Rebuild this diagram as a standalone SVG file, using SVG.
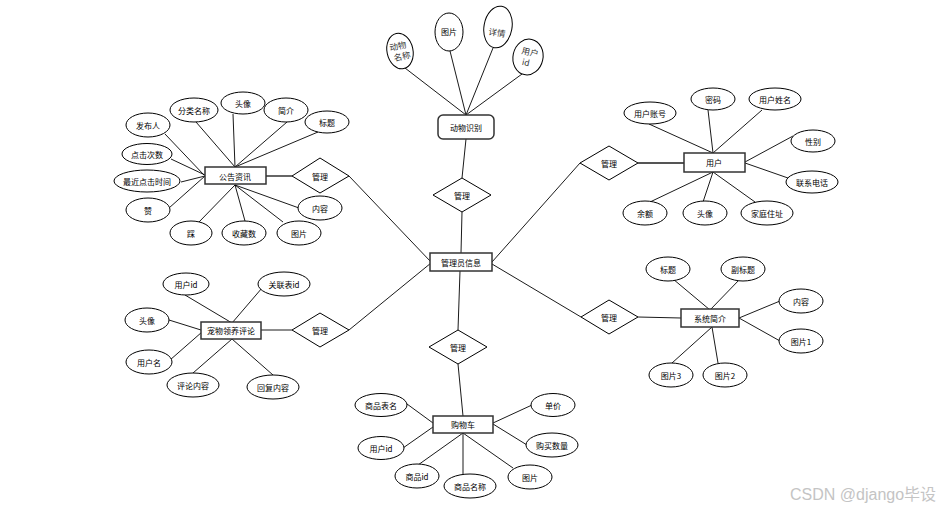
<svg xmlns="http://www.w3.org/2000/svg" width="945" height="509" viewBox="0 0 945 509">
<style>
.bg{fill:#fff}
.ent{fill:#fff;stroke:#333;stroke-width:1.5}
.att{fill:#fff;stroke:#000;stroke-width:1}
.rel{fill:#fff;stroke:#000;stroke-width:1}
.ln{stroke:#000;stroke-width:0.9;fill:none}
.lt{stroke:#555;stroke-width:1.8;fill:none}
text{font-family:"Noto Sans CJK SC","Liberation Sans",sans-serif;font-size:8px;fill:#000;text-anchor:middle;dominant-baseline:central}
.ser{font-family:"Noto Sans CJK SC","Liberation Serif",serif;font-size:8.5px;fill:#333}
.wm{font-family:"Liberation Sans","Noto Sans CJK SC",sans-serif;font-size:16px;fill:#c4c4c4;text-anchor:start;dominant-baseline:alphabetic}
</style>
<rect class="bg" x="0" y="0" width="945" height="509"/>
<g id="connectors">
<!-- admin to diamonds -->
<line class="ln" x1="462" y1="212" x2="461" y2="253"/>
<line class="ln" x1="462" y1="178" x2="466" y2="139"/>
<line class="ln" x1="349" y1="176" x2="431" y2="262"/>
<line class="lt" x1="266" y1="176" x2="292" y2="176"/>
<line class="ln" x1="349" y1="330" x2="431" y2="263"/>
<line class="ln" x1="261" y1="330" x2="292" y2="330"/>
<line class="ln" x1="580" y1="163" x2="492" y2="262"/>
<line class="lt" x1="638" y1="163" x2="684" y2="163"/>
<line class="ln" x1="581" y1="317" x2="492" y2="264"/>
<line class="ln" x1="638" y1="317" x2="681" y2="318"/>
<line class="ln" x1="458" y1="330" x2="460" y2="271"/>
<line class="ln" x1="458" y1="364" x2="463" y2="416"/>
<!-- 动物识别 -->
<line class="ln" x1="405" y1="68" x2="466" y2="115"/>
<line class="ln" x1="450" y1="51" x2="466" y2="115"/>
<line class="ln" x1="493" y1="48" x2="466" y2="115"/>
<line class="ln" x1="522" y1="74" x2="466" y2="115"/>
<!-- 公告资讯 -->
<line class="ln" x1="165" y1="134" x2="204" y2="175"/>
<line class="ln" x1="171" y1="159" x2="205" y2="175"/>
<line class="ln" x1="181" y1="182" x2="205" y2="176"/>
<line class="ln" x1="169" y1="208" x2="205" y2="176"/>
<line class="ln" x1="199" y1="222" x2="235" y2="185"/>
<line class="ln" x1="245" y1="221" x2="235" y2="185"/>
<line class="ln" x1="283" y1="222" x2="235" y2="185"/>
<line class="ln" x1="299" y1="208" x2="235" y2="185"/>
<line class="ln" x1="318" y1="132" x2="235" y2="167"/>
<line class="ln" x1="287" y1="122" x2="235" y2="167"/>
<line class="ln" x1="233" y1="114" x2="235" y2="167"/>
<line class="ln" x1="196" y1="122" x2="235" y2="167"/>
<!-- 用户 -->
<line class="ln" x1="649" y1="124" x2="713" y2="153"/>
<line class="ln" x1="708" y1="110" x2="713" y2="153"/>
<line class="ln" x1="762" y1="110" x2="713" y2="153"/>
<line class="ln" x1="793" y1="136" x2="745" y2="162"/>
<line class="ln" x1="788" y1="178" x2="745" y2="163"/>
<line class="ln" x1="755" y1="202" x2="713" y2="172"/>
<line class="ln" x1="703" y1="202" x2="713" y2="172"/>
<line class="ln" x1="650" y1="202" x2="713" y2="172"/>
<!-- 宠物领养评论 -->
<line class="ln" x1="185" y1="295" x2="232" y2="323"/>
<line class="ln" x1="262" y1="288" x2="232" y2="323"/>
<line class="ln" x1="169" y1="320" x2="201" y2="330"/>
<line class="ln" x1="170" y1="360" x2="202" y2="332"/>
<line class="ln" x1="193" y1="373" x2="232" y2="339"/>
<line class="ln" x1="273" y1="375" x2="232" y2="339"/>
<!-- 系统简介 -->
<line class="ln" x1="673" y1="279" x2="710" y2="310"/>
<line class="ln" x1="740" y1="279" x2="710" y2="310"/>
<line class="ln" x1="780" y1="301" x2="739" y2="318"/>
<line class="ln" x1="780" y1="341" x2="739" y2="318"/>
<line class="ln" x1="672" y1="363" x2="712" y2="327"/>
<line class="ln" x1="718" y1="363" x2="712" y2="327"/>
<!-- 购物车 -->
<line class="ln" x1="407" y1="404" x2="433" y2="423"/>
<line class="ln" x1="403" y1="448" x2="433" y2="427"/>
<line class="ln" x1="418" y1="465" x2="463" y2="433"/>
<line class="ln" x1="463" y1="474" x2="463" y2="433"/>
<line class="ln" x1="513" y1="468" x2="463" y2="433"/>
<line class="ln" x1="532" y1="405" x2="493" y2="423"/>
<line class="ln" x1="527" y1="445" x2="493" y2="424"/>
</g>

<g id="admin"><rect class="ent" x="430" y="253" width="62" height="18"/><text x="461" y="262">管理员信息</text></g>

<g id="rel-animal"><polygon class="rel" points="433,195 462,178 491,195 462,212"/><text x="462" y="195">管理</text></g>
<g id="rel-notice"><polygon class="rel" points="292,176 320,158 349,176 320,193"/><text x="320" y="176">管理</text></g>
<g id="rel-comment"><polygon class="rel" points="292,330 320,313 349,330 320,347"/><text x="320" y="330">管理</text></g>
<g id="rel-user"><polygon class="rel" points="580,163 609,146 638,163 609,180"/><text x="609" y="163">管理</text></g>
<g id="rel-intro"><polygon class="rel" points="581,317 609,300 638,317 609,334"/><text x="609" y="317">管理</text></g>
<g id="rel-cart"><polygon class="rel" points="429,347 458,330 487,347 458,364"/><text x="458" y="347">管理</text></g>

<!-- 动物识别 -->
<g id="animal"><rect class="ent" x="438" y="115" width="56" height="24" rx="5"/><text x="466" y="127">动物识别</text></g>
<g id="animal-name"><ellipse class="att" cx="400" cy="51" rx="13" ry="18" transform="rotate(-12 400 51)"/><text class="ser" x="399" y="45" transform="rotate(-12 400 51)">动物</text><text class="ser" x="401" y="56" transform="rotate(-12 400 51)">名称</text></g>
<g id="animal-img"><ellipse class="att" cx="449" cy="32" rx="14" ry="19"/><text x="449" y="31">图片</text></g>
<g id="animal-detail"><ellipse class="att" cx="498" cy="27" rx="14" ry="21" transform="rotate(10 498 27)"/><text class="ser" x="498" y="32" transform="rotate(10 498 27)">详情</text></g>
<g id="animal-uid"><ellipse class="att" cx="528" cy="57" rx="15" ry="18" transform="rotate(12 528 57)"/><text class="ser" x="529" y="51" transform="rotate(12 528 57)">用户</text><text class="ser" x="527" y="62" transform="rotate(12 528 57)">id</text></g>

<!-- 公告资讯 -->
<g id="notice"><rect class="ent" x="205" y="167" width="61" height="17"/><text x="235" y="176">公告资讯</text></g>
<g id="n-publisher"><ellipse class="att" cx="148" cy="125" rx="22" ry="12"/><text x="148" y="125">发布人</text></g>
<g id="n-clicks"><ellipse class="att" cx="147" cy="154" rx="25" ry="10.5"/><text x="147" y="154">点击次数</text></g>
<g id="n-lasttime"><ellipse class="att" cx="147" cy="181" rx="33" ry="11"/><text x="147" y="181">最近点击时间</text></g>
<g id="n-like"><ellipse class="att" cx="148" cy="210" rx="22" ry="12"/><text x="148" y="210">赞</text></g>
<g id="n-dislike"><ellipse class="att" cx="191" cy="233" rx="21" ry="12"/><text x="191" y="233">踩</text></g>
<g id="n-fav"><ellipse class="att" cx="244" cy="233" rx="22" ry="12"/><text x="244" y="233">收藏数</text></g>
<g id="n-img"><ellipse class="att" cx="299" cy="233" rx="22" ry="12"/><text x="299" y="233">图片</text></g>
<g id="n-content"><ellipse class="att" cx="320" cy="208" rx="22" ry="12"/><text x="320" y="208">内容</text></g>
<g id="n-title"><ellipse class="att" cx="327" cy="122" rx="22" ry="11"/><text x="327" y="122">标题</text></g>
<g id="n-brief"><ellipse class="att" cx="286" cy="110" rx="22" ry="12"/><text x="286" y="110">简介</text></g>
<g id="n-avatar"><ellipse class="att" cx="243" cy="103" rx="22" ry="11"/><text x="243" y="103">头像</text></g>
<g id="n-category"><ellipse class="att" cx="194" cy="110" rx="24" ry="12"/><text x="194" y="110">分类名称</text></g>

<!-- 用户 -->
<g id="user"><rect class="ent" x="684" y="153" width="61" height="19"/><text x="714" y="162.5">用户</text></g>
<g id="u-account"><ellipse class="att" cx="650" cy="113" rx="26" ry="11"/><text x="650" y="113">用户账号</text></g>
<g id="u-pwd"><ellipse class="att" cx="713" cy="99" rx="22" ry="11"/><text x="713" y="99">密码</text></g>
<g id="u-name"><ellipse class="att" cx="775" cy="99" rx="26" ry="11"/><text x="775" y="99">用户姓名</text></g>
<g id="u-sex"><ellipse class="att" cx="813" cy="141" rx="22" ry="11"/><text x="813" y="141">性别</text></g>
<g id="u-phone"><ellipse class="att" cx="812" cy="182" rx="26" ry="11"/><text x="812" y="182">联系电话</text></g>
<g id="u-addr"><ellipse class="att" cx="767" cy="213" rx="26" ry="12"/><text x="767" y="213">家庭住址</text></g>
<g id="u-avatar"><ellipse class="att" cx="705" cy="213" rx="22" ry="12"/><text x="705" y="213">头像</text></g>
<g id="u-balance"><ellipse class="att" cx="645" cy="213" rx="22" ry="12"/><text x="645" y="213">余额</text></g>

<!-- 宠物领养评论 -->
<g id="comment"><rect class="ent" x="201" y="322" width="60" height="17"/><text x="231" y="330.5">宠物领养评论</text></g>
<g id="c-uid"><ellipse class="att" cx="186" cy="284" rx="23" ry="11"/><text x="186" y="284">用户id</text></g>
<g id="c-refid"><ellipse class="att" cx="284" cy="284" rx="26" ry="12"/><text x="284" y="284">关联表id</text></g>
<g id="c-avatar"><ellipse class="att" cx="147" cy="320" rx="22" ry="12"/><text x="147" y="320">头像</text></g>
<g id="c-uname"><ellipse class="att" cx="149" cy="362" rx="23" ry="12"/><text x="149" y="362">用户名</text></g>
<g id="c-content"><ellipse class="att" cx="193" cy="385" rx="26" ry="12"/><text x="193" y="385">评论内容</text></g>
<g id="c-reply"><ellipse class="att" cx="273" cy="387" rx="26" ry="12"/><text x="273" y="387">回复内容</text></g>

<!-- 系统简介 -->
<g id="intro"><rect class="ent" x="681" y="309" width="58" height="18"/><text x="710" y="318">系统简介</text></g>
<g id="i-title"><ellipse class="att" cx="668" cy="269" rx="22" ry="12"/><text x="668" y="269">标题</text></g>
<g id="i-subtitle"><ellipse class="att" cx="743" cy="269" rx="22" ry="12"/><text x="743" y="269">副标题</text></g>
<g id="i-content"><ellipse class="att" cx="801" cy="301" rx="22" ry="12"/><text x="801" y="301">内容</text></g>
<g id="i-img1"><ellipse class="att" cx="801" cy="341" rx="22" ry="12"/><text x="801" y="341">图片1</text></g>
<g id="i-img3"><ellipse class="att" cx="671" cy="375" rx="22" ry="12"/><text x="671" y="375">图片3</text></g>
<g id="i-img2"><ellipse class="att" cx="725" cy="375" rx="22" ry="12"/><text x="725" y="375">图片2</text></g>

<!-- 购物车 -->
<g id="cart"><rect class="ent" x="433" y="416" width="60" height="17"/><text x="463" y="424.5">购物车</text></g>
<g id="s-table"><ellipse class="att" cx="381" cy="405" rx="26" ry="11.5"/><text x="381" y="405">商品表名</text></g>
<g id="s-uid"><ellipse class="att" cx="381" cy="448" rx="23" ry="11.5"/><text x="381" y="448">用户id</text></g>
<g id="s-gid"><ellipse class="att" cx="417" cy="476" rx="22" ry="12"/><text x="417" y="476">商品id</text></g>
<g id="s-gname"><ellipse class="att" cx="470" cy="486" rx="26" ry="12"/><text x="470" y="486">商品名称</text></g>
<g id="s-img"><ellipse class="att" cx="530" cy="477" rx="22" ry="12"/><text x="530" y="477">图片</text></g>
<g id="s-price"><ellipse class="att" cx="553" cy="405" rx="22" ry="11.5"/><text x="553" y="405">单价</text></g>
<g id="s-qty"><ellipse class="att" cx="552" cy="445" rx="26" ry="12"/><text x="552" y="445">购买数量</text></g>

<text class="wm" x="790" y="500">CSDN @django毕设</text>
</svg>
